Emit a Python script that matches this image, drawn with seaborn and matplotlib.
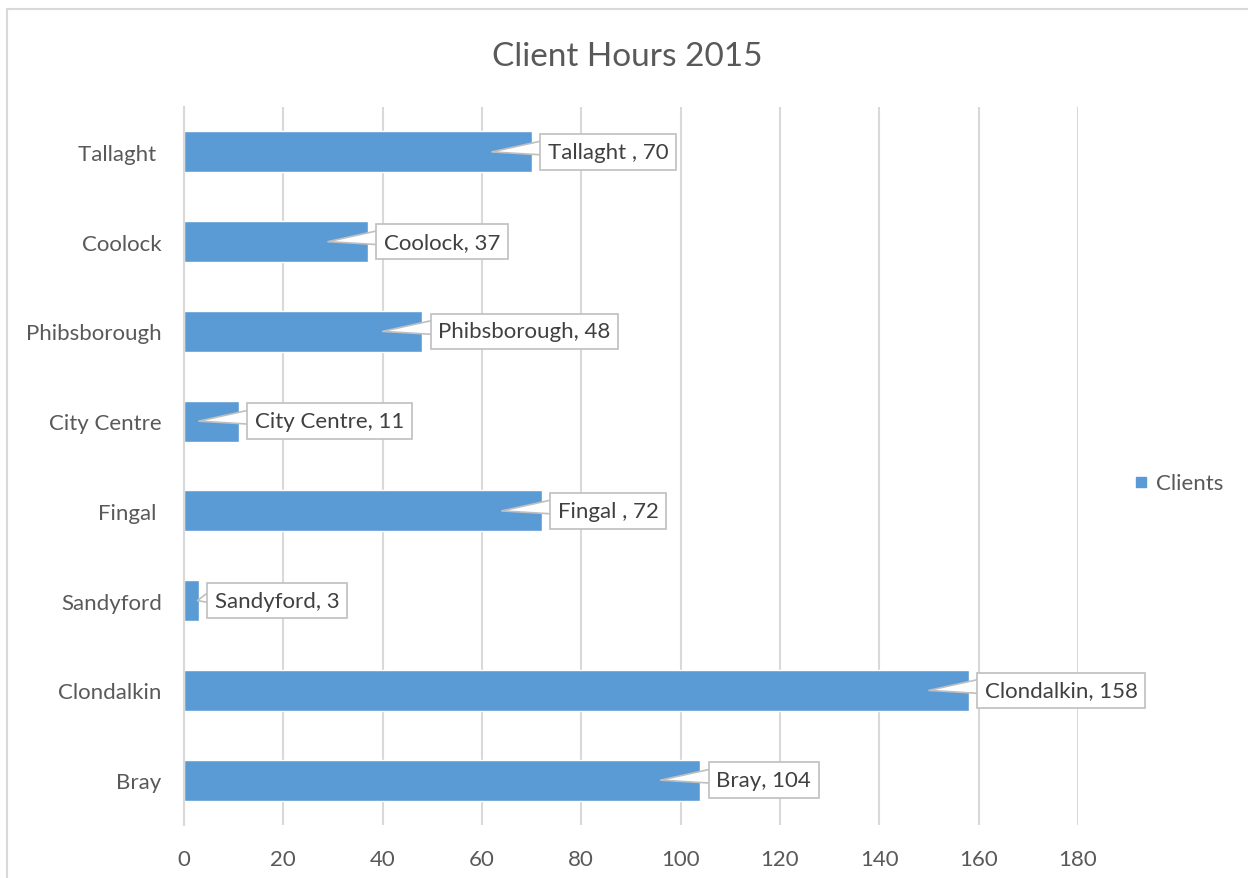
import matplotlib
matplotlib.use("Agg")
import matplotlib.pyplot as plt
from matplotlib.lines import Line2D
from matplotlib.ticker import FixedLocator
from matplotlib.transforms import offset_copy
import pandas as pd
import seaborn as sns

# data (top to bottom)
sites = ["Tallaght ", "Coolock", "Phibsborough", "City Centre", "Fingal ", "Sandyford", "Clondalkin", "Bray"]
hours = [70, 37, 48, 11, 72, 3, 158, 104]
x_ticks = [0, 20, 40, 60, 80, 100, 120, 140, 160, 180]
series_name = "Clients"

df = pd.DataFrame({"site": sites, "hours": hours})

sns.set_theme(style="white")
plt.rcParams["font.family"] = ["Lato", "DejaVu Sans"]

bar_col = "#5B9BD5"
grid_col = "#d9d9d9"
text_col = "#595959"

fig = plt.figure(figsize=(12.48, 8.79), dpi=100)
ax = fig.add_axes([0.1474, 0.0603, 0.7163, 0.8168])

sns.barplot(data=df, x="hours", y="site", order=sites, orient="h",
            color=bar_col, saturation=1, width=0.455,
            edgecolor="white", linewidth=1, ax=ax, zorder=2)

ax.set_xlim(0, 180)
ax.set_ylim(len(sites) - 0.5, -0.5)
ax.set_xticks(x_ticks)
ax.set_xlabel("")
ax.set_ylabel("")
ax.grid(axis="x", color=grid_col, lw=1.5, zorder=0)
ax.set_axisbelow(True)

for s in ["top", "right", "bottom"]:
    ax.spines[s].set_visible(False)
ax.spines["left"].set_color(grid_col)
ax.spines["left"].set_linewidth(1.5)

ax.tick_params(axis="x", length=0, pad=17, labelsize=16, labelcolor=text_col)
ax.tick_params(axis="y", which="major", length=0, pad=16, labelsize=16, labelcolor=text_col)
ax.yaxis.set_minor_locator(FixedLocator([i - 0.5 for i in range(len(sites) + 1)]))
ax.tick_params(axis="y", which="minor", length=8, width=1.5, color=grid_col)

# callout data labels: box just right of the bar end, wedge pointing into the bar
label_pos = offset_copy(ax.transData, fig=fig, x=16, y=0, units="dots")
for i, (name, val) in enumerate(zip(sites, hours)):
    tip = val - 8 if val > 8 else val * 0.9
    ax.annotate(f"{name}, {val}", xy=(tip, i), xycoords="data",
                xytext=(val, i), textcoords=label_pos,
                ha="left", va="center", fontsize=16, color="#404040",
                bbox=dict(boxstyle="square,pad=0.35", fc="white", ec="#bfbfbf", lw=1.2),
                arrowprops=dict(arrowstyle="wedge,tail_width=0.7,shrink_factor=0.5",
                                fc="white", ec="#bfbfbf", lw=1.2, relpos=(0, 0.72),
                                patchA=None, shrinkA=0, shrinkB=0),
                annotation_clip=False, zorder=5)

fig.text(0.503, 0.935, "Client Hours 2015", ha="center", va="center",
         fontsize=24, color=text_col)

handle = Line2D([], [], marker="s", ls="", color=bar_col, markersize=7)
fig.legend([handle], [series_name], loc="center left", bbox_to_anchor=(0.889, 0.449),
           frameon=False, fontsize=16, labelcolor=text_col, handletextpad=0.2,
           handlelength=1)

# chart frame (top and left edges)
fig.add_artist(Line2D([0.0056, 1], [0.9886, 0.9886], color=grid_col, lw=1.5))
fig.add_artist(Line2D([0.0056, 0.0056], [0, 0.9886], color=grid_col, lw=1.5))

fig.savefig("out.png", dpi=100)
